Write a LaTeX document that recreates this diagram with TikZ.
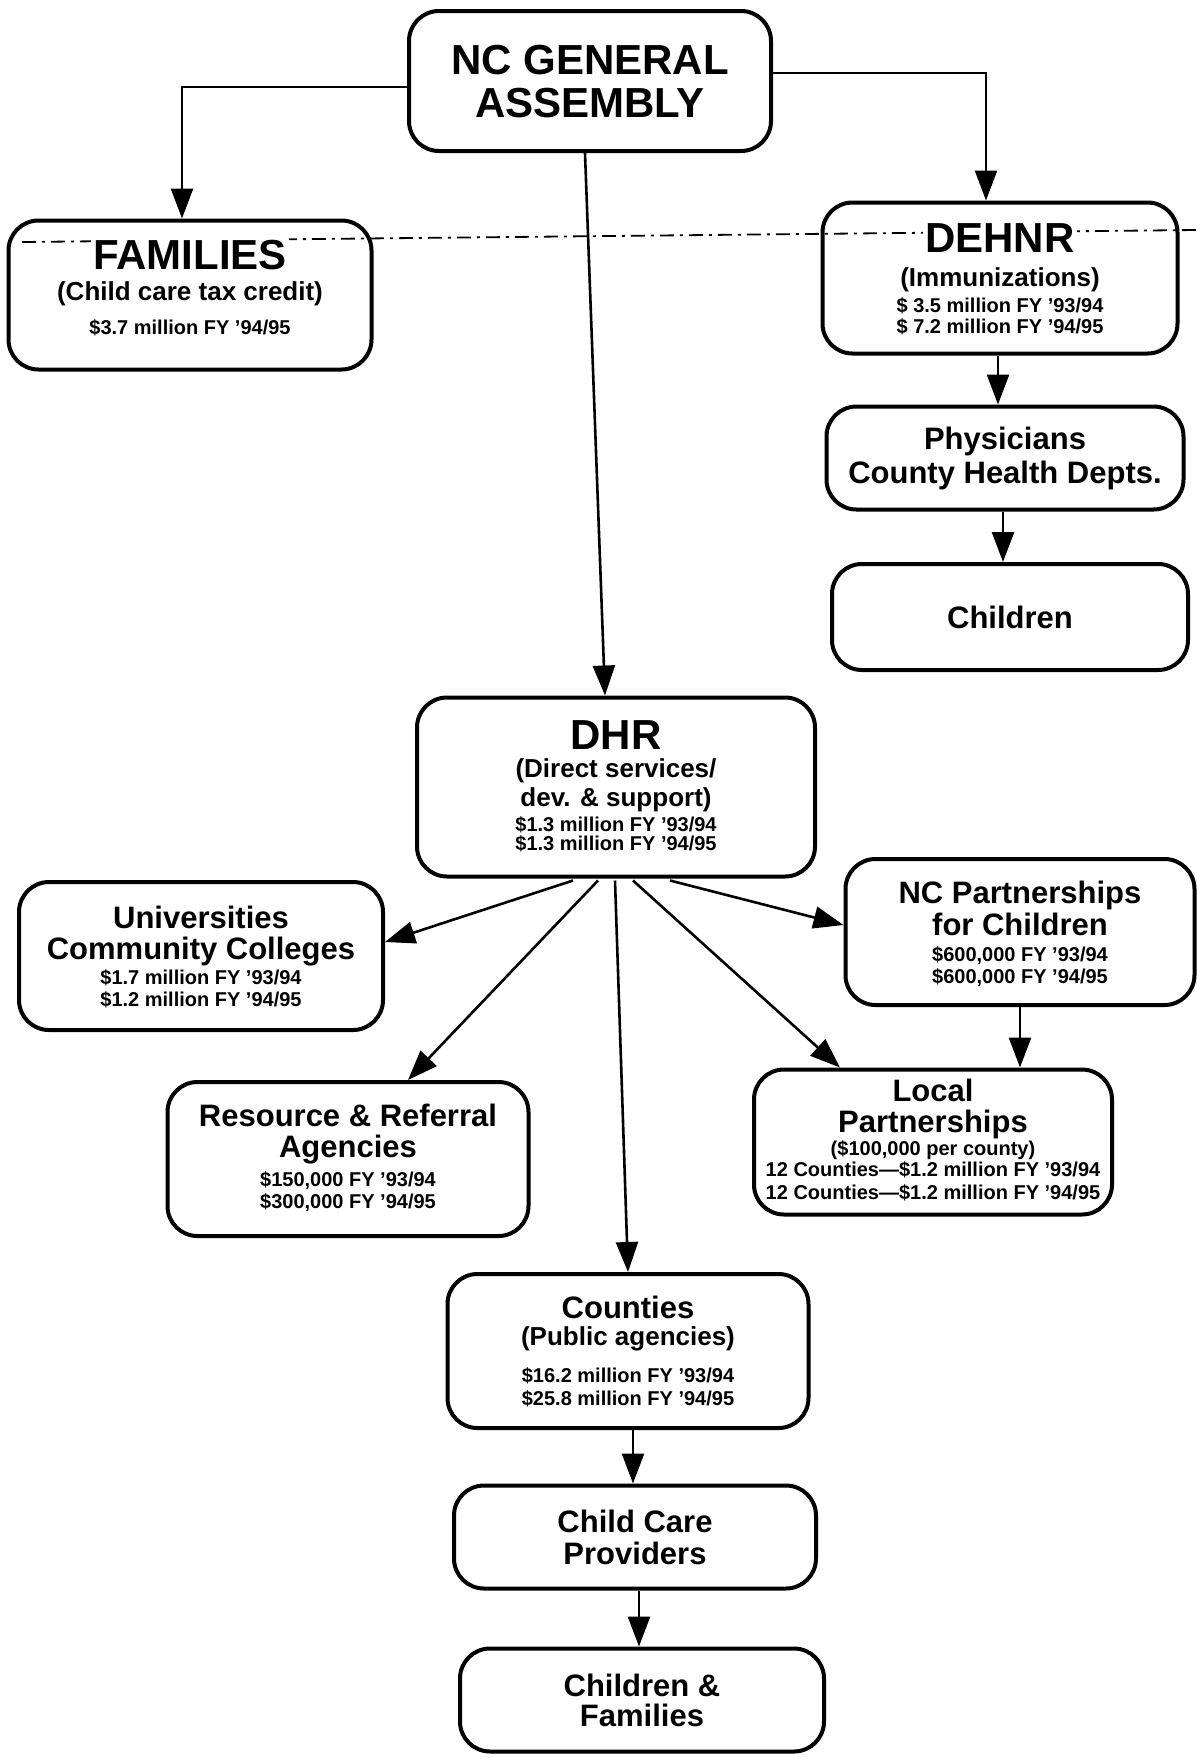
\documentclass[tikz,border=0pt]{standalone}
\usepackage{fontspec}
\setmainfont{Liberation Sans}
\usetikzlibrary{arrows.meta,calc}
\newcommand{\fTitle}{\fontsize{21}{21}\selectfont}
\newcommand{\fSub}{\fontsize{15.5}{15.5}\selectfont}
\newcommand{\fParen}{\fontsize{13}{13}\selectfont}
\newcommand{\fMoney}{\fontsize{10}{10}\selectfont}
\newcommand{\Top}[1]{\rule{0pt}{#1}}
\newcommand{\Wt}[1]{{\fboxsep=1pt\colorbox{white}{#1}}}
\tikzset{
  box/.style={draw, line width=2pt, rounded corners=15pt, align=center, inner sep=0pt,
    font={\bfseries\fontsize{10}{0}\selectfont\lineskiplimit=-100pt}},
  arr/.style={line width=1.3pt, -{Triangle[length=15pt,width=11pt]}},
  sep/.style={line width=0.9pt, dash pattern=on 7pt off 3pt on 1.5pt off 3pt},
}
\begin{document}
\begin{tikzpicture}[x=0.5pt,y=-0.5pt]
\path[use as bounding box] (0,0) rectangle (1196,1758);
% dashed separator line behind the top row
\draw[sep] (22,242) -- (1196,230);

\node[box, minimum width=181pt, minimum height=70pt] (asm) at (590,81)
  {\Top{15pt}\smash{\fTitle NC GENERAL}\\[21.25pt]\smash{\fTitle ASSEMBLY}};

\node[box, minimum width=181.5pt, minimum height=74.5pt] (fam) at (190,295)
  {\Top{15pt}\smash{\Wt{\fTitle FAMILIES}}\\[15.5pt]\smash{\fParen (Child care tax credit)}\\[17pt]\smash{\fMoney \$3.7 million FY '94/95}\\[8pt]\mbox{}};

\node[box, minimum width=177.5pt, minimum height=75.5pt] (dehnr) at (1000,278)
  {\Top{15pt}\smash{\Wt{\fTitle DEHNR}}\\[17pt]\smash{\fParen (Immunizations)}\\[13pt]\smash{\fMoney \$ 3.5 million FY '93/94}\\[10.5pt]\smash{\fMoney \$ 7.2 million FY '94/95}};

\node[box, minimum width=178.5pt, minimum height=51.5pt] (phys) at (1005,458)
  {\Top{11pt}\smash{\fSub Physicians}\\[17pt]\smash{\fSub County Health Depts.}\\[3pt]\mbox{}};

\node[box, minimum width=178pt, minimum height=53pt] (child) at (1010,617)
  {\Top{11pt}\smash{\fSub Children}};

\node[box, minimum width=199pt, minimum height=89.5pt] (dhr) at (616,787)
  {\Top{15pt}\smash{\fTitle DHR}\\[14pt]\smash{\fParen (Direct services/}\\[14.5pt]\smash{\fParen dev. \& support)}\\[12.5pt]\smash{\fMoney \$1.3 million FY '93/94}\\[9.5pt]\smash{\fMoney \$1.3 million FY '94/95}\\[2pt]\mbox{}};

\node[box, minimum width=182pt, minimum height=74pt] (univ) at (201,956)
  {\Top{11pt}\smash{\fSub Universities}\\[15.5pt]\smash{\fSub Community Colleges}\\[12.5pt]\smash{\fMoney \$1.7 million FY '93/94}\\[11pt]\smash{\fMoney \$1.2 million FY '94/95}};

\node[box, minimum width=174.5pt, minimum height=73pt] (ncp) at (1020,932)
  {\Top{11pt}\smash{\fSub NC Partnerships}\\[16pt]\smash{\fSub for Children}\\[13pt]\smash{\fMoney \$600,000 FY '93/94}\\[11pt]\smash{\fMoney \$600,000 FY '94/95}};

\node[box, minimum width=180.5pt, minimum height=77pt] (rr) at (348,1159)
  {\Top{11pt}\smash{\fSub Resource \& Referral}\\[15.5pt]\smash{\fSub Agencies}\\[14.5pt]\smash{\fMoney \$150,000 FY '93/94}\\[11pt]\smash{\fMoney \$300,000 FY '94/95}\\[3pt]\mbox{}};

\node[box, minimum width=179pt, minimum height=72.5pt] (local) at (933,1142)
  {\Top{11pt}\smash{\fSub Local}\\[15.5pt]\smash{\fSub Partnerships}\\[11.5pt]\smash{\fMoney (\$100,000 per county)}\\[10.5pt]\smash{\fMoney 12 Counties---\$1.2 million FY '93/94}\\[11.5pt]\smash{\fMoney 12 Counties---\$1.2 million FY '94/95}\\[3pt]\mbox{}};

\node[box, minimum width=180.5pt, minimum height=77pt] (cty) at (628,1351)
  {\Top{11pt}\smash{\fSub Counties}\\[13.5pt]\smash{\fParen (Public agencies)}\\[18.5pt]\smash{\fMoney \$16.2 million FY '93/94}\\[11.5pt]\smash{\fMoney \$25.8 million FY '94/95}};

\node[box, minimum width=181pt, minimum height=51.5pt] (ccp) at (635,1537)
  {\Top{11pt}\smash{\fSub Child Care}\\[16pt]\smash{\fSub Providers}};

\node[box, minimum width=182pt, minimum height=51.5pt] (cf) at (642,1700)
  {\Top{11pt}\smash{\fSub Children \&}\\[15pt]\smash{\fSub Families}};

% connectors
\draw[arr] ($(asm.west)+(0,6)$) -| ($(fam.north)+(-8,0)$);
\draw[arr] ($(asm.east)+(0,-8)$) -| ($(dehnr.north)+(-14,0)$);
\draw[arr] ($(asm.south)+(-5,0)$) -- ($(dhr.north)+(-11,0)$);
\draw[arr] ($(dehnr.south)+(-2,0)$) -- ($(phys.north)+(-7,0)$);
\draw[arr] ($(phys.south)+(-2,0)$) -- ($(child.north)+(-7,0)$);
\draw[arr] ($(dhr.south)+(-43,2)$) -- ($(univ.east)+(0,-14)$);
\draw[arr] ($(dhr.south)+(-18,2)$) -- ($(rr.north)+(60,0)$);
\draw[arr] ($(dhr.south)+(-1,2)$) -- (cty.north);
\draw[arr] ($(dhr.south)+(17,2)$) -- ($(local.north)+(-93,0)$);
\draw[arr] ($(dhr.south)+(54,2)$) -- ($(ncp.west)+(0,-7)$);
\draw[arr] (ncp.south) -- (ncp.south |- local.north);
\draw[arr] ($(cty.south)+(5,0)$) -- ($(ccp.north)+(-2,0)$);
\draw[arr] ($(ccp.south)+(4,0)$) -- ($(cf.north)+(-3,0)$);
\end{tikzpicture}
\end{document}
